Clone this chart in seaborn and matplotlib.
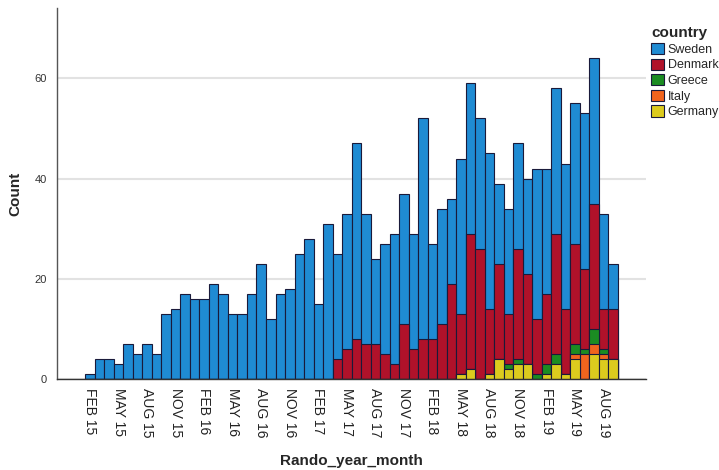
"""Stacked monthly counts by country, SPSS-style bar chart."""

import matplotlib

matplotlib.use("Agg")
import matplotlib.pyplot as plt
from matplotlib.patches import Patch
import numpy as np
import pandas as pd
import seaborn as sns

# months Feb 2015 .. Sep 2019
MONTH_ABBR = ["JAN", "FEB", "MAR", "APR", "MAY", "JUN",
              "JUL", "AUG", "SEP", "OCT", "NOV", "DEC"]
months = [f"{MONTH_ABBR[(1 + i) % 12]} {15 + (1 + i) // 12}" for i in range(56)]

sweden = [1, 4, 4, 3, 7, 5, 7, 5, 13, 14, 17, 16,
          16, 19, 17, 13, 13, 17, 23, 12, 17, 18, 25, 28,
          15, 31, 21, 27, 39, 26, 17, 22, 26, 26, 23, 44,
          19, 23, 17, 31, 30, 26, 31, 16, 21, 21, 19, 30,
          25, 29, 29, 28, 31, 29, 19, 9]
denmark = [0] * 26 + [4, 6, 8, 7, 7, 5, 3, 11, 6, 8,
                      8, 11, 19, 12, 27, 26, 13, 19, 10, 22, 18, 11,
                      14, 24, 13, 20, 16, 25, 8, 10]
greece = [0] * 44 + [1, 1, 0, 1, 2, 2, 0, 2, 1, 3, 1, 0]
italy = [0] * 50 + [0, 1, 5, 2, 1, 0]
germany = [0] * 38 + [0, 1, 2, 0, 1, 4, 2, 3, 3, 0,
                      1, 3, 1, 4, 0, 5, 4, 4]

countries = ["Sweden", "Denmark", "Greece", "Italy", "Germany"]
colors = {
    "Sweden": "#1f8bd3",
    "Denmark": "#b0122a",
    "Greece": "#1b8c22",
    "Italy": "#f0641e",
    "Germany": "#dccb1e",
}
tick_every = 3


def main() -> None:
    df = pd.DataFrame(
        {
            "month": months,
            "Sweden": sweden,
            "Denmark": denmark,
            "Greece": greece,
            "Italy": italy,
            "Germany": germany,
        }
    )
    # cumulative heights, bottom of the stack is the last country
    stack = df[countries[::-1]].cumsum(axis=1)

    sns.set_style("white")
    plt.rcParams["font.family"] = ["Liberation Sans", "DejaVu Sans"]

    fig = plt.figure(figsize=(7.19, 4.70), dpi=100)
    ax = fig.add_axes([0.079, 0.193, 0.820, 0.790])

    for country in countries:
        sns.barplot(
            x=df["month"],
            y=stack[country],
            order=months,
            color=colors[country],
            saturation=1,
            width=1.0,
            edgecolor="#1a1a3a",
            linewidth=0.8,
            ax=ax,
        )

    ax.set_xlim(-3.5, len(months) - 1 + 3.5)
    ax.set_ylim(0, 74)
    ax.set_yticks([0, 20, 40, 60])
    ax.yaxis.grid(True, color="#e2e2e2", linewidth=1.5)
    ax.set_axisbelow(True)
    ax.tick_params(axis="y", labelsize=8, labelcolor="#333333", length=0, pad=7)

    ticks = np.arange(1, len(months), tick_every) - 1
    ax.set_xticks(ticks)
    ax.set_xticklabels([months[i] for i in ticks], rotation=-90, fontsize=10,
                       color="#222222")
    ax.tick_params(axis="x", length=0, pad=6)

    ax.set_xlabel("Rando_year_month", fontsize=11, fontweight="bold", labelpad=12)
    ax.set_ylabel("Count", fontsize=11, fontweight="bold", labelpad=9)

    for side in ["top", "right"]:
        ax.spines[side].set_visible(False)
    ax.spines["left"].set_color("#555555")
    ax.spines["bottom"].set_color("#333333")
    ax.spines["left"].set_linewidth(1.0)
    ax.spines["bottom"].set_linewidth(1.0)

    handles = [
        Patch(facecolor=colors[c], edgecolor="#1a1a3a", linewidth=0.8, label=c)
        for c in countries
    ]
    leg = fig.legend(
        handles=handles,
        title="country",
        loc="upper left",
        bbox_to_anchor=(0.899, 0.955),
        frameon=False,
        fontsize=9,
        handlelength=1.0,
        handleheight=1.0,
        handletextpad=0.3,
        labelspacing=0.22,
        borderaxespad=0,
        alignment="left",
    )
    leg.get_title().set_fontweight("bold")
    leg.get_title().set_fontsize(11)

    fig.savefig("out.png", dpi=100)
    plt.close(fig)


if __name__ == "__main__":
    main()
